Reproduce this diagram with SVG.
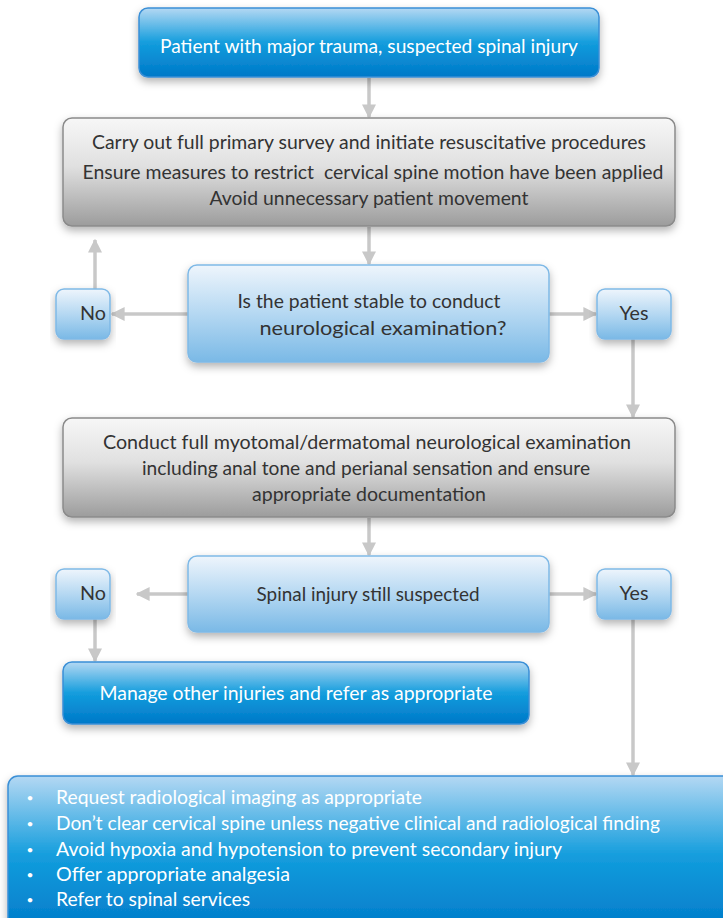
<svg xmlns="http://www.w3.org/2000/svg" width="723" height="918" viewBox="0 0 723 918">
<defs>
<linearGradient id="gBlue" x1="0" y1="0" x2="0" y2="1">
<stop offset="0" stop-color="#b4d8f3"/>
<stop offset="0.5" stop-color="#139ddd"/>
<stop offset="1" stop-color="#0078c8"/>
</linearGradient>
<linearGradient id="gGray" x1="0" y1="0" x2="0" y2="1">
<stop offset="0" stop-color="#f7f7f7"/>
<stop offset="0.45" stop-color="#e0e0e0"/>
<stop offset="1" stop-color="#9c9c9c"/>
</linearGradient>
<linearGradient id="gLight" x1="0" y1="0" x2="0" y2="1">
<stop offset="0" stop-color="#eef5fc"/>
<stop offset="0.5" stop-color="#b5d8f2"/>
<stop offset="1" stop-color="#7ab9e6"/>
</linearGradient>
<filter id="sh" x="-10%" y="-20%" width="120%" height="150%">
<feDropShadow dx="0" dy="4" stdDeviation="4" flood-color="#000" flood-opacity="0.3"/>
</filter>
<marker id="ah" viewBox="0 0 10 10" refX="9" refY="5" markerWidth="4" markerHeight="4" orient="auto" markerUnits="strokeWidth">
<path d="M0,0 L10,5 L0,10 z" fill="#c8c8c8"/>
</marker>
</defs>
<style>
.t{font-family:Lato,"Open Sans","Liberation Sans",sans-serif;font-size:19px;font-weight:400;text-anchor:middle;white-space:pre}
.w{fill:#ffffff}
.d{fill:#333333}
.l{text-anchor:start}
.b{font-size:12px}
.c{fill:none;stroke:#c8c8c8;stroke-width:3.5}
.bb{stroke:#3a8fd6;stroke-width:1.5}
.bg{stroke:#8a8a8a;stroke-width:1.5}
.bl{stroke:#7fb9e6;stroke-width:1.5}
</style>
<rect width="723" height="918" fill="#ffffff"/>

<g id="connectors">
<line class="c" x1="369" y1="78" x2="369" y2="117" marker-end="url(#ah)"/>
<line class="c" x1="369" y1="227" x2="369" y2="264" marker-end="url(#ah)"/>
<line class="c" x1="188" y1="314" x2="112" y2="314" marker-end="url(#ah)"/>
<line class="c" x1="95" y1="289" x2="95" y2="240" marker-end="url(#ah)"/>
<line class="c" x1="549" y1="314" x2="596" y2="314" marker-end="url(#ah)"/>
<line class="c" x1="633" y1="339" x2="633" y2="417" marker-end="url(#ah)"/>
<line class="c" x1="369" y1="518" x2="369" y2="555" marker-end="url(#ah)"/>
<line class="c" x1="188" y1="594" x2="137" y2="594" marker-end="url(#ah)"/>
<line class="c" x1="549" y1="594" x2="596" y2="594" marker-end="url(#ah)"/>
<line class="c" x1="95" y1="619" x2="95" y2="661" marker-end="url(#ah)"/>
<line class="c" x1="633" y1="619" x2="633" y2="775" marker-end="url(#ah)"/>
</g>

<g id="start">
<rect x="139" y="8" width="460" height="69" rx="9" fill="url(#gBlue)" class="bb" filter="url(#sh)"/>
<text class="t w" x="369" y="53" textLength="418" lengthAdjust="spacingAndGlyphs">Patient with major trauma, suspected spinal injury</text>
</g>

<g id="survey">
<rect x="63" y="118" width="612" height="108" rx="9" fill="url(#gGray)" class="bg" filter="url(#sh)"/>
<text class="t d" x="369" y="149" textLength="554" lengthAdjust="spacingAndGlyphs">Carry out full primary survey and initiate resuscitative procedures</text>
<text class="t d" x="373" y="179" textLength="581" lengthAdjust="spacingAndGlyphs">Ensure measures to restrict  cervical spine motion have been applied</text>
<text class="t d" x="369" y="205" textLength="319" lengthAdjust="spacingAndGlyphs">Avoid unnecessary patient movement</text>
</g>

<g id="stable">
<rect x="188" y="265" width="361" height="97" rx="9" fill="url(#gLight)" class="bl" filter="url(#sh)"/>
<text class="t d" x="369" y="308" textLength="263" lengthAdjust="spacingAndGlyphs">Is the patient stable to conduct</text>
<text class="t d" x="383" y="335" textLength="247" lengthAdjust="spacingAndGlyphs">neurological examination?</text>
</g>

<g id="no1">
<rect x="56" y="289" width="54" height="50" rx="8" fill="url(#gLight)" class="bl" filter="url(#sh)"/>
<text class="t d" x="93" y="320" textLength="26" lengthAdjust="spacingAndGlyphs">No</text>
</g>

<g id="yes1">
<rect x="597" y="289" width="74" height="50" rx="8" fill="url(#gLight)" class="bl" filter="url(#sh)"/>
<text class="t d" x="634" y="320" textLength="29" lengthAdjust="spacingAndGlyphs">Yes</text>
</g>

<g id="neuro">
<rect x="63" y="418" width="612" height="99" rx="9" fill="url(#gGray)" class="bg" filter="url(#sh)"/>
<text class="t d" x="367" y="449" textLength="528" lengthAdjust="spacingAndGlyphs">Conduct full myotomal/dermatomal neurological examination</text>
<text class="t d" x="366" y="475" textLength="448" lengthAdjust="spacingAndGlyphs">including anal tone and perianal sensation and ensure</text>
<text class="t d" x="369" y="501" textLength="234" lengthAdjust="spacingAndGlyphs">appropriate documentation</text>
</g>

<g id="suspected">
<rect x="188" y="556" width="361" height="76" rx="9" fill="url(#gLight)" class="bl" filter="url(#sh)"/>
<text class="t d" x="368" y="601" textLength="223" lengthAdjust="spacingAndGlyphs">Spinal injury still suspected</text>
</g>

<g id="no2">
<rect x="56" y="569" width="54" height="50" rx="8" fill="url(#gLight)" class="bl" filter="url(#sh)"/>
<text class="t d" x="93" y="600" textLength="26" lengthAdjust="spacingAndGlyphs">No</text>
</g>

<g id="yes2">
<rect x="597" y="569" width="74" height="50" rx="8" fill="url(#gLight)" class="bl" filter="url(#sh)"/>
<text class="t d" x="634" y="600" textLength="29" lengthAdjust="spacingAndGlyphs">Yes</text>
</g>

<g id="manage">
<rect x="63" y="662" width="466" height="62" rx="9" fill="url(#gBlue)" class="bb" filter="url(#sh)"/>
<text class="t w" x="296" y="700" textLength="393" lengthAdjust="spacingAndGlyphs">Manage other injuries and refer as appropriate</text>
</g>

<g id="actions">
<rect x="8" y="776" width="730" height="160" rx="10" fill="url(#gBlue)" class="bb" filter="url(#sh)"/>
<g class="t w">
<text class="b" x="30" y="802">•</text><text class="l" x="56" y="804" textLength="366" lengthAdjust="spacingAndGlyphs">Request radiological imaging as appropriate</text>
<text class="b" x="30" y="828">•</text><text class="l" x="56" y="830" textLength="604" lengthAdjust="spacingAndGlyphs">Don’t clear cervical spine unless negative clinical and radiological finding</text>
<text class="b" x="30" y="854">•</text><text class="l" x="56" y="856" textLength="506" lengthAdjust="spacingAndGlyphs">Avoid hypoxia and hypotension to prevent secondary injury</text>
<text class="b" x="30" y="879">•</text><text class="l" x="56" y="881" textLength="234" lengthAdjust="spacingAndGlyphs">Offer appropriate analgesia</text>
<text class="b" x="30" y="904">•</text><text class="l" x="56" y="906" textLength="194" lengthAdjust="spacingAndGlyphs">Refer to spinal services</text>
</g>
</g>
</svg>
